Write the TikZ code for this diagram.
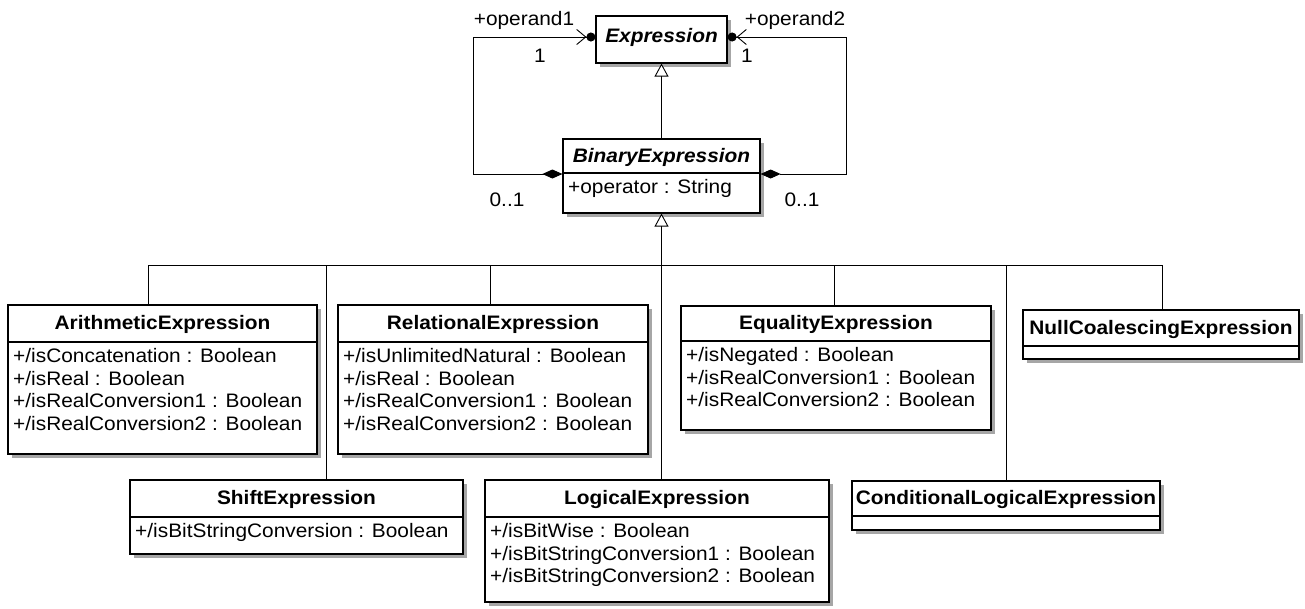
\documentclass[tikz,border=0pt]{standalone}
\usepackage{fontspec}
\setmainfont{Liberation Sans}[FakeStretch=1.07]
\usetikzlibrary{arrows.meta,shadows,fit}
\tikzset{
  cls/.style={draw, line width=1.2pt, fill=white, inner sep=0pt,
    drop shadow={shadow xshift=4pt, shadow yshift=-4pt, fill=black!35, opacity=1}},
  ttl/.style={font=\fontsize{19.5}{23}\selectfont\bfseries, inner sep=0pt, anchor=base},
  attr/.style={font=\fontsize{19.5}{22.7}\selectfont, align=left, inner sep=0pt, anchor=north west},
  lbl/.style={font=\fontsize{19.5}{23}\selectfont, inner sep=0pt, anchor=base},
  conn/.style={line width=0.9pt},
  gen/.style={conn, -{Triangle[open, length=13pt, width=14pt, fill=white]}},
  assoc/.style={conn, {Diamond[length=20pt,width=9pt]}-{Straight Barb[length=9pt,width=15pt]Circle[length=9pt]}},
}
% #1 name, #2 x1, #3 y1, #4 x2, #5 y2, #6 divider y, #7 title, #8 attributes
\newcommand\umlclass[8]{%
  \node[cls, fit={(#2,#3)(#4,#5)}] (#1) {};
  \node[ttl] (#1-t) at ({(#2+#4)/2},{(#3+#6)/2+6}) {#7};
  \draw[line width=1.2pt] (#1.west |- 0,#6) -- (#1.east |- 0,#6);
  \node[attr] (#1-a) at ({#2+5},{#6+6}) {#8};
}
\begin{document}
\begin{tikzpicture}[x=1pt,y=-1pt]
\useasboundingbox (0,0) rectangle (1305,608);

% Expression
\node[cls, fit={(596,16)(727,63)}] (expr) {};
\node[ttl, font=\fontsize{19.5}{23}\selectfont\bfseries\itshape] (expr-t) at (661.5,42) {Expression};

% BinaryExpression
\umlclass{bin}{563}{139}{760}{213}{173}{\itshape BinaryExpression}{+operator : String}

% subclasses
\umlclass{arith}{8}{305}{317}{454}{342}{ArithmeticExpression}{+/isConcatenation : Boolean\\+/isReal : Boolean\\+/isRealConversion1 : Boolean\\+/isRealConversion2 : Boolean}
\umlclass{rel}{338}{305}{648}{454}{342}{RelationalExpression}{+/isUnlimitedNatural : Boolean\\+/isReal : Boolean\\+/isRealConversion1 : Boolean\\+/isRealConversion2 : Boolean}
\umlclass{eq}{681}{306}{991}{430}{341}{EqualityExpression}{+/isNegated : Boolean\\+/isRealConversion1 : Boolean\\+/isRealConversion2 : Boolean}
\umlclass{nullc}{1023}{310}{1299}{359}{346}{NullCoalescingExpression}{}
\umlclass{shift}{130}{480}{463}{554}{517}{ShiftExpression}{+/isBitStringConversion : Boolean}
\umlclass{logic}{485}{480}{829}{602}{517}{LogicalExpression}{+/isBitWise : Boolean\\+/isBitStringConversion1 : Boolean\\+/isBitStringConversion2 : Boolean}
\umlclass{cond}{852}{481}{1160}{530}{516}{ConditionalLogicalExpression}{}

% generalization Binary -> Expression
\draw[gen] (bin.north) -- (expr.south);

% generalization tree
\coordinate (bA) at (148,265);
\coordinate (bS) at (326,265);
\coordinate (bR) at (490,265);
\coordinate (bE) at (834,265);
\coordinate (bC) at (1006,265);
\coordinate (bN) at (1162,265);
\draw[conn] (bA) -- (bN);
\draw[conn] (arith.north -| bA) -- (bA);
\draw[conn] (shift.north -| bS) -- (bS);
\draw[conn] (rel.north -| bR) -- (bR);
\draw[conn] (eq.north -| bE) -- (bE);
\draw[conn] (cond.north -| bC) -- (bC);
\draw[conn] (nullc.north -| bN) -- (bN);
\draw[gen] (logic.north -| bin.south) -- (bin.south);

% associations
\coordinate (kL) at (473,0);
\coordinate (kR) at (846,0);
\draw[assoc] ([yshift=2pt]bin.west) -| ([yshift=2.5pt]expr.west -| kL) -- ([yshift=2.5pt]expr.west);
\draw[assoc] ([yshift=2pt]bin.east) -| ([yshift=2.5pt]expr.east -| kR) -- ([yshift=2.5pt]expr.east);

% role names and multiplicities
\node[lbl] (op1) at (524,25) {+operand1};
\node[lbl] (m1) at (540,62) {1};
\node[lbl] (op2) at (795,25) {+operand2};
\node[lbl] (m2) at (747,62) {1};
\node[lbl] (m3) at (507,206) {0..1};
\node[lbl] (m4) at (802,206) {0..1};
\end{tikzpicture}
\end{document}
